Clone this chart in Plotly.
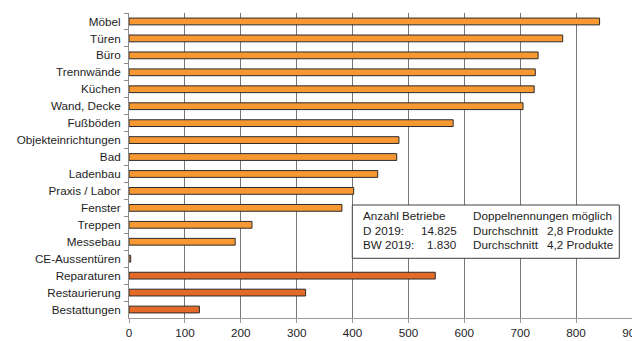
import plotly.graph_objects as go

# Product groups (top to bottom) and number of businesses naming them
categories = [
    "Möbel", "Türen", "Büro", "Trennwände", "Küchen", "Wand, Decke",
    "Fußböden", "Objekteinrichtungen", "Bad", "Ladenbau", "Praxis / Labor",
    "Fenster", "Treppen", "Messebau", "CE-Aussentüren", "Reparaturen",
    "Restaurierung", "Bestattungen",
]
values = [842, 776, 732, 727, 725, 705, 580, 483, 479, 445, 402, 381,
          220, 190, 3, 548, 316, 126]
# service groups get the darker shade
services = ["Reparaturen", "Restaurierung", "Bestattungen"]

x_ticks = [0, 100, 200, 300, 400, 500, 600, 700, 800, 900]

# info box contents
box_header = ["Anzahl Betriebe", "Doppelnennungen möglich"]
box_regions = ["D 2019:", "BW 2019:"]
box_counts = ["14.825", "1.830"]
box_avgs = ["2,8 Produkte", "4,2 Produkte"]

LIGHT = "#F89833"
DARK = "#E56A28"
colors = [DARK if c in services else LIGHT for c in categories]

W, H = 632, 341
L, R, T, B = 129, 0, 13, 23


def px(x):
    return (x - L) / (W - L - R)


def py(y):
    return (H - B - y) / (H - T - B)


FONT = "Liberation Sans, Arial, sans-serif"
FS = 11.7
TXT = "#1e1e1e"

fig = go.Figure(
    go.Bar(
        x=values,
        y=categories,
        orientation="h",
        marker=dict(color=colors, line=dict(color="#2b2b2b", width=1)),
        hoverinfo="x+y",
    )
)

fig.update_layout(
    width=W,
    height=H,
    margin=dict(l=L, r=R, t=T, b=B, autoexpand=False),
    paper_bgcolor="white",
    plot_bgcolor="white",
    bargap=0.6,
    showlegend=False,
    font=dict(family=FONT, size=FS, color=TXT),
)

fig.update_xaxes(
    range=[0, 900],
    tickvals=x_ticks,
    ticktext=[str(v) for v in x_ticks],
    showgrid=True,
    gridcolor="#767676",
    gridwidth=1,
    zeroline=False,
    showline=True,
    linecolor="#9a9a9a",
    linewidth=1,
    ticks="outside",
    ticklen=4,
    tickcolor="#9a9a9a",
    tickfont=dict(family=FONT, size=FS, color=TXT),
    ticklabeloverflow="allow",
    automargin=False,
    fixedrange=True,
)

fig.update_yaxes(
    categoryorder="array",
    categoryarray=categories,
    autorange="reversed",
    showgrid=False,
    showline=True,
    linecolor="#8a8a8a",
    linewidth=1,
    ticks="outside",
    tickson="boundaries",
    ticklen=4,
    tickcolor="#8a8a8a",
    tickfont=dict(family=FONT, size=FS, color=TXT),
    ticklabelstandoff=5,
    automargin=False,
    fixedrange=True,
)

# info box frame
fig.add_shape(
    type="rect", xref="paper", yref="paper",
    x0=px(352.3), x1=px(619.3), y0=py(258.3), y1=py(205),
    line=dict(color="#404040", width=1), fillcolor="white", layer="above",
)

line_y = [215.3, 230.3, 244.3]


def note(text, x, y, anchor):
    fig.add_annotation(
        text=text, xref="paper", yref="paper", x=px(x), y=py(y),
        xanchor=anchor, yanchor="middle", showarrow=False,
        font=dict(family=FONT, size=FS, color=TXT),
    )


note(box_header[0], 360.5, line_y[0], "left")
note(box_header[1], 471, line_y[0], "left")
for i in range(2):
    note(box_regions[i], 360.5, line_y[i + 1], "left")
    note(box_counts[i], 459, line_y[i + 1], "right")
    note("Durchschnitt", 471, line_y[i + 1], "left")
    note(box_avgs[i], 545, line_y[i + 1], "left")

fig.write_html("out.html")
